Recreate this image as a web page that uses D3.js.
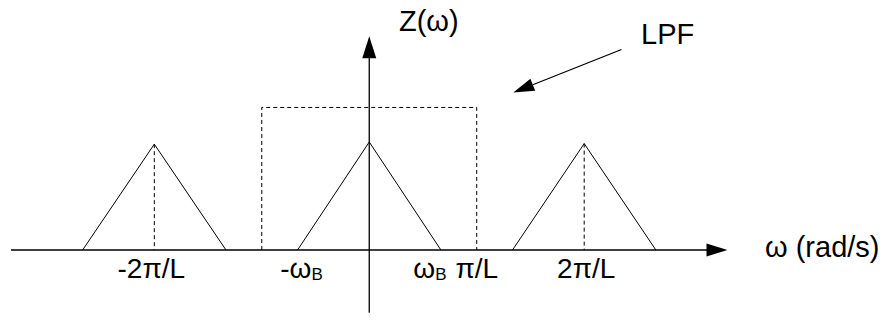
<!DOCTYPE html>
<html>
<head>
<meta charset="utf-8">
<script src="https://cdn.jsdelivr.net/npm/d3@7"></script>
<style>
  body { margin: 0; background: #fff; }
  svg { display: block; }
</style>
</head>
<body>
<svg width="887" height="322"></svg>
<script>
// frequency in units of pi/L, amplitude normalised
const omegaB = 0.667;
const centres = [-2, 0, 2];          // spectral copies
const peaks = [0.98, 1.0, 0.985];    // peak heights
const lpfCutoff = 1;                 // +/- pi/L
const lpfGain = 1.32;
const ticks = [
  {v: -2, main: "-2π/L", sub: ""},
  {v: -omegaB, main: "-ω", sub: "B"},
  {v: omegaB, main: "ω", sub: "B"},
  {v: 1, main: "π/L", sub: ""},
  {v: 2, main: "2π/L", sub: ""}
];

const svg = d3.select("svg");
const x = d3.scaleLinear().domain([-10/3, 10/3]).range([11, 727.5]);
const y = d3.scaleLinear().domain([0, 1]).range([250, 142]);

const g = svg.append("g")
    .attr("fill", "none")
    .attr("stroke", "#000")
    .attr("stroke-width", 1);

// x axis + arrow
g.append("line")
    .attr("x1", x(-10/3)).attr("x2", x(10/3) - 20)
    .attr("y1", y(0)).attr("y2", y(0))
    .attr("stroke-width", 1.3);
g.append("path")
    .attr("fill", "#000").attr("stroke", "none")
    .attr("d", `M${x(10/3)},${y(0)}L${x(10/3) - 21},${y(0) - 6.5}L${x(10/3) - 21},${y(0) + 6.5}Z`);

// y axis + arrow
g.append("line")
    .attr("x1", x(0)).attr("x2", x(0))
    .attr("y1", y(-0.58)).attr("y2", y(1.98) + 20)
    .attr("stroke-width", 1.3);
g.append("path")
    .attr("fill", "#000").attr("stroke", "none")
    .attr("d", `M${x(0)},${y(1.98)}L${x(0) - 7},${y(1.98) + 22}L${x(0) + 7},${y(1.98) + 22}Z`);

// LPF dashed box
g.append("path")
    .attr("stroke-dasharray", "4,3")
    .attr("d", d3.line()([
      [x(-lpfCutoff), y(0)], [x(-lpfCutoff), y(lpfGain)],
      [x(lpfCutoff), y(lpfGain)], [x(lpfCutoff), y(0)]
    ]));

// triangles
const tri = d3.line().x(d => x(d[0])).y(d => y(d[1]));
centres.forEach((c, i) => {
  g.append("path")
      .attr("d", tri([[c - omegaB, 0], [c, peaks[i]], [c + omegaB, 0]]));
  if (c !== 0) {
    g.append("line")
        .attr("stroke-dasharray", "4,3")
        .attr("x1", x(c)).attr("x2", x(c))
        .attr("y1", y(peaks[i])).attr("y2", y(0));
  }
});

// LPF pointer arrow
const a0 = [621.5, 49.5], a1 = [513.3, 92.5];
const ang = Math.atan2(a1[1] - a0[1], a1[0] - a0[0]);
const hl = 21, hw = 6.5;
const bx = a1[0] - hl * Math.cos(ang), by = a1[1] - hl * Math.sin(ang);
g.append("line")
    .attr("x1", a0[0]).attr("y1", a0[1]).attr("x2", bx).attr("y2", by)
    .attr("stroke-width", 1.3);
g.append("path")
    .attr("fill", "#000").attr("stroke", "none")
    .attr("d", `M${a1[0]},${a1[1]}L${bx - hw * Math.sin(ang)},${by + hw * Math.cos(ang)}L${bx + hw * Math.sin(ang)},${by - hw * Math.cos(ang)}Z`);

// labels
const txt = svg.append("g")
    .attr("font-family", "'Liberation Sans', Arial, sans-serif")
    .attr("fill", "#000");

const tl = txt.selectAll("text.tick")
  .data(ticks)
  .join("text")
    .attr("class", "tick")
    .attr("font-size", 28)
    .attr("text-anchor", "middle")
    .attr("x", d => x(d.v) + (d.main === "ω" ? -11 : d.main === "-ω" ? 4 : d.v === -2 ? -3 : d.v === 2 ? 2 : 0))
    .attr("y", 278);
tl.append("tspan").text(d => d.main);
tl.filter(d => d.sub).append("tspan")
    .attr("font-size", 17)
    .attr("dy", 2)
    .text(d => d.sub);

txt.append("text").attr("font-size", 29).attr("x", 399).attr("y", 31).text("Z(ω)");
txt.append("text").attr("font-size", 29).attr("x", 641).attr("y", 44).text("LPF");
txt.append("text").attr("font-size", 29).attr("x", 765).attr("y", 257).text("ω (rad/s)");
</script>
</body>
</html>
